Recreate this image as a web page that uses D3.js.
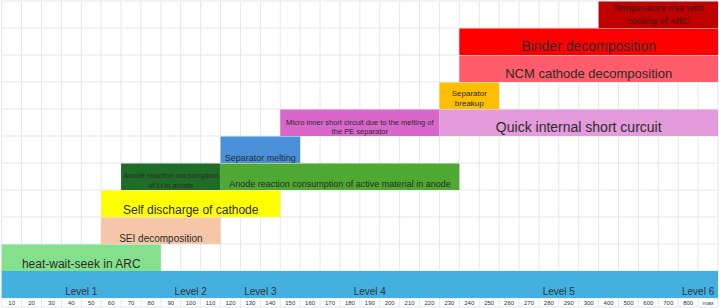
<!DOCTYPE html>
<html>
<head>
<meta charset="utf-8">
<script src="https://cdn.jsdelivr.net/npm/d3@7"></script>
<style>
  body { margin: 0; background: #fff; }
  svg { display: block; font-family: "Liberation Sans", Arial, sans-serif; }
</style>
</head>
<body>
<div id="chart"></div>
<script>
// temperature columns (deg C) along the bottom
const tempTicks = ["10","20","30","40","50","60","70","80","90","100","110","120","130","140","150",
  "160","170","180","190","200","210","220","230","240","250","260","270","280","290","300",
  "400","500","600","700","800","max"];

// reaction stages: lane (row from top), start column, end column
const stageNames = [
  "Temperature rise with\ncooling of ARC",
  "Binder decomposition",
  "NCM cathode decomposition",
  "Separator\nbreakup",
  "Micro inner short circuit due to the melting of\nthe PE separator",
  "Quick internal short curcuit",
  "Separator melting",
  "Anode reaction consumption\nof Li in anode",
  "Anode reaction consumption of active material in anode",
  "Self discharge of cathode",
  "SEI decomposition",
  "heat-wait-seek in ARC"
];
const stageLane  = [0, 1, 2, 3, 4, 4, 5, 6, 6, 7, 8, 9];
const stageStart = ["400","240","240","230","150","230","120","70","120","60","60","10"];
const stageEnd   = ["max","max","max","250","220","max","150","110","230","140","110","80"];

// safety levels
const levelNames = ["Level 1","Level 2","Level 3","Level 4","Level 5","Level 6"];
const levelStart = ["10","90","120","160","230","800"];
const levelEnd   = ["80","110","150","220","700","max"];

// styles (colour, font size, baseline offsets from lane bottom)
const stageStyle = {
  "Temperature rise with\ncooling of ARC": {fill: "#c00000", size: 9.5, base: [-17.5, -4]},
  "Binder decomposition": {fill: "#ff0000", size: 14, base: [-4.3]},
  "NCM cathode decomposition": {fill: "#ff5c6b", size: 13, base: [-4.5]},
  "Separator\nbreakup": {fill: "#ffbf00", size: 8, base: [-13.5, -3]},
  "Micro inner short circuit due to the melting of\nthe PE separator": {fill: "#d966c9", size: 7.5, base: [-11, -2.3]},
  "Quick internal short curcuit": {fill: "#e49bdc", size: 14, base: [-4.3]},
  "Separator melting": {fill: "#4a90d9", size: 9, base: [-2]},
  "Anode reaction consumption\nof Li in anode": {fill: "#1e6c25", size: 7.5, base: [-11.7, -2.3]},
  "Anode reaction consumption of active material in anode": {fill: "#4ea832", size: 9, base: [-2.7]},
  "Self discharge of cathode": {fill: "#ffff00", size: 12, base: [-2.7]},
  "SEI decomposition": {fill: "#f5c6a8", size: 10, base: [-2.5]},
  "heat-wait-seek in ARC": {fill: "#84e08c", size: 12, base: [-3]}
};

const W = 719, H = 308;
const svg = d3.select("#chart").append("svg")
  .attr("width", W).attr("height", H);

const x = d3.scaleBand()
  .domain(tempTicks)
  .range([1.7, 718]);

const lanes = d3.range(11);
const y = d3.scaleBand()
  .domain(lanes)
  .range([1, 298]);

const axisTop = 298;

// grid
const grid = svg.append("g").attr("stroke", "#e4e7f0").attr("stroke-width", 1);
const xEdges = tempTicks.map(t => x(t)).concat([x.range()[1]]);
grid.selectAll(".v").data(xEdges).enter().append("line")
  .attr("x1", d => d).attr("x2", d => d)
  .attr("y1", 1).attr("y2", 307);
const yEdges = lanes.map(l => y(l)).concat([axisTop, 307]);
grid.selectAll(".h").data(yEdges).enter().append("line")
  .attr("x1", 1.7).attr("x2", 718)
  .attr("y1", d => d).attr("y2", d => d);

// level band
const levelLane = 10;
svg.append("rect")
  .attr("x", x("10")).attr("y", y(levelLane))
  .attr("width", x("max") + x.bandwidth() - x("10"))
  .attr("height", y.bandwidth())
  .attr("fill", "#44b0e0");

svg.selectAll(".level").data(levelNames).enter().append("text")
  .attr("class", "level")
  .attr("x", (d, i) => (x(levelStart[i]) + x(levelEnd[i]) + x.bandwidth()) / 2)
  .attr("y", y(levelLane) + y.bandwidth() - 3)
  .attr("text-anchor", "middle")
  .attr("font-size", 10)
  .attr("fill", "#2a3540")
  .text(d => d);

// stage bars
const stages = stageNames.map((n, i) => ({
  name: n, lane: stageLane[i], start: stageStart[i], end: stageEnd[i]
}));

const bars = svg.selectAll(".stage").data(stages).enter().append("g")
  .attr("class", "stage");

bars.append("rect")
  .attr("x", d => x(d.start))
  .attr("y", d => y(d.lane) + 0.5)
  .attr("width", d => x(d.end) + x.bandwidth() - x(d.start))
  .attr("height", y.bandwidth() - 0.5)
  .attr("fill", d => stageStyle[d.name].fill);

bars.each(function(d) {
  const st = stageStyle[d.name];
  const cx = (x(d.start) + x(d.end) + x.bandwidth()) / 2;
  const bottom = y(d.lane) + y.bandwidth();
  d3.select(this).selectAll("text").data(d.name.split("\n")).enter().append("text")
    .attr("x", cx)
    .attr("y", (t, j) => bottom + st.base[j])
    .attr("text-anchor", "middle")
    .attr("font-size", st.size)
    .attr("fill", d.name.startsWith("Temperature") ? "#3a0a0a" : "#2b2b2b")
    .text(t => t);
});

// temperature axis
const xAxis = d3.axisBottom(x).tickSize(0).tickPadding(0);
const ax = svg.append("g")
  .attr("transform", "translate(0," + axisTop + ")")
  .call(xAxis);
ax.select(".domain").remove();
ax.selectAll("text")
  .attr("dy", null)
  .attr("y", 7)
  .attr("font-size", 6)
  .attr("font-family", "Liberation Sans, Arial, sans-serif")
  .attr("fill", "#333");
</script>
</body>
</html>
